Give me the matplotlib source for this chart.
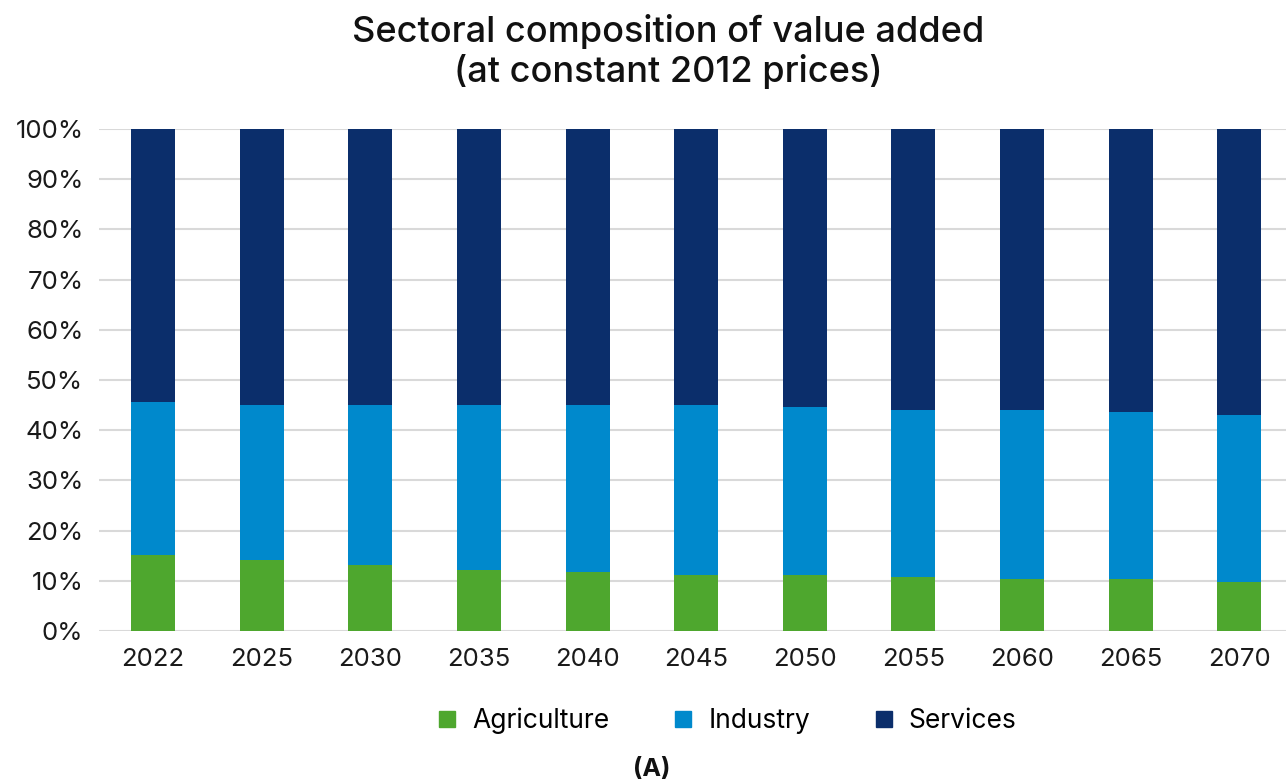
import matplotlib
matplotlib.use("Agg")
import matplotlib.pyplot as plt
import numpy as np
from matplotlib.lines import Line2D

plt.rcParams['font.family'] = ['Inter', 'DejaVu Sans']

years = ["2022", "2025", "2030", "2035", "2040", "2045", "2050", "2055", "2060", "2065", "2070"]
agriculture = [15.1, 14.1, 13.1, 12.2, 11.7, 11.1, 11.1, 10.7, 10.3, 10.3, 9.7]
industry = [30.6, 31.0, 32.0, 32.9, 33.4, 34.0, 33.6, 33.4, 33.8, 33.4, 33.4]
services = [54.3, 54.9, 54.9, 54.9, 54.9, 54.9, 55.3, 55.9, 55.9, 56.3, 56.9]

colors = {"Agriculture": "#4EA72E", "Industry": "#0089CC", "Services": "#0B2E6B"}

fig = plt.figure(figsize=(12.86, 7.81), dpi=100)
ax = fig.add_axes([0.0768, 0.192, 0.9232, 0.643])

x = np.arange(len(years))
agr = np.array(agriculture) / 100
ind = np.array(industry) / 100
srv = np.array(services) / 100
w = 0.405
ax.bar(x, agr, w, color=colors["Agriculture"], zorder=3)
ax.bar(x, ind, w, bottom=agr, color=colors["Industry"], zorder=3)
ax.bar(x, srv, w, bottom=agr + ind, color=colors["Services"], zorder=3)

ax.set_xlim(-0.5, 10.43)
ax.set_ylim(0, 1)
ticks = np.arange(0, 1.01, 0.1)
ax.set_yticks(ticks)
ax.set_yticklabels([f"{int(round(v*100))}%" for v in ticks])
ax.set_xticks(x)
ax.set_xticklabels(years)
ax.tick_params(axis='both', length=0, labelsize=18.5, colors="#1a1a1a")
ax.tick_params(axis='y', pad=11)
ax.tick_params(axis='x', pad=12)
ax.grid(axis='y', color="#D9D9D9", linewidth=1.5, zorder=0)
for s in ax.spines.values():
    s.set_visible(False)

fig.text(0.5195, 0.934, "Sectoral composition of value added\n(at constant 2012 prices)",
         ha='center', va='center', fontsize=26, fontweight='medium', linespacing=1.15,
         color="#111111")

handles = [Line2D([], [], marker='s', linestyle='none', markersize=11,
                  color=c, label=k) for k, c in colors.items()]
fig.legend(handles=handles, loc='center', bbox_to_anchor=(0.564, 0.077), ncol=3,
           frameon=False, fontsize=19, handlelength=1.0, handletextpad=0.45,
           columnspacing=2.3)

fig.text(0.507, 0.015, "(A)", ha='center', va='center', fontsize=18, fontweight='bold',
         color="#111111")

fig.savefig("out.png", dpi=100)
